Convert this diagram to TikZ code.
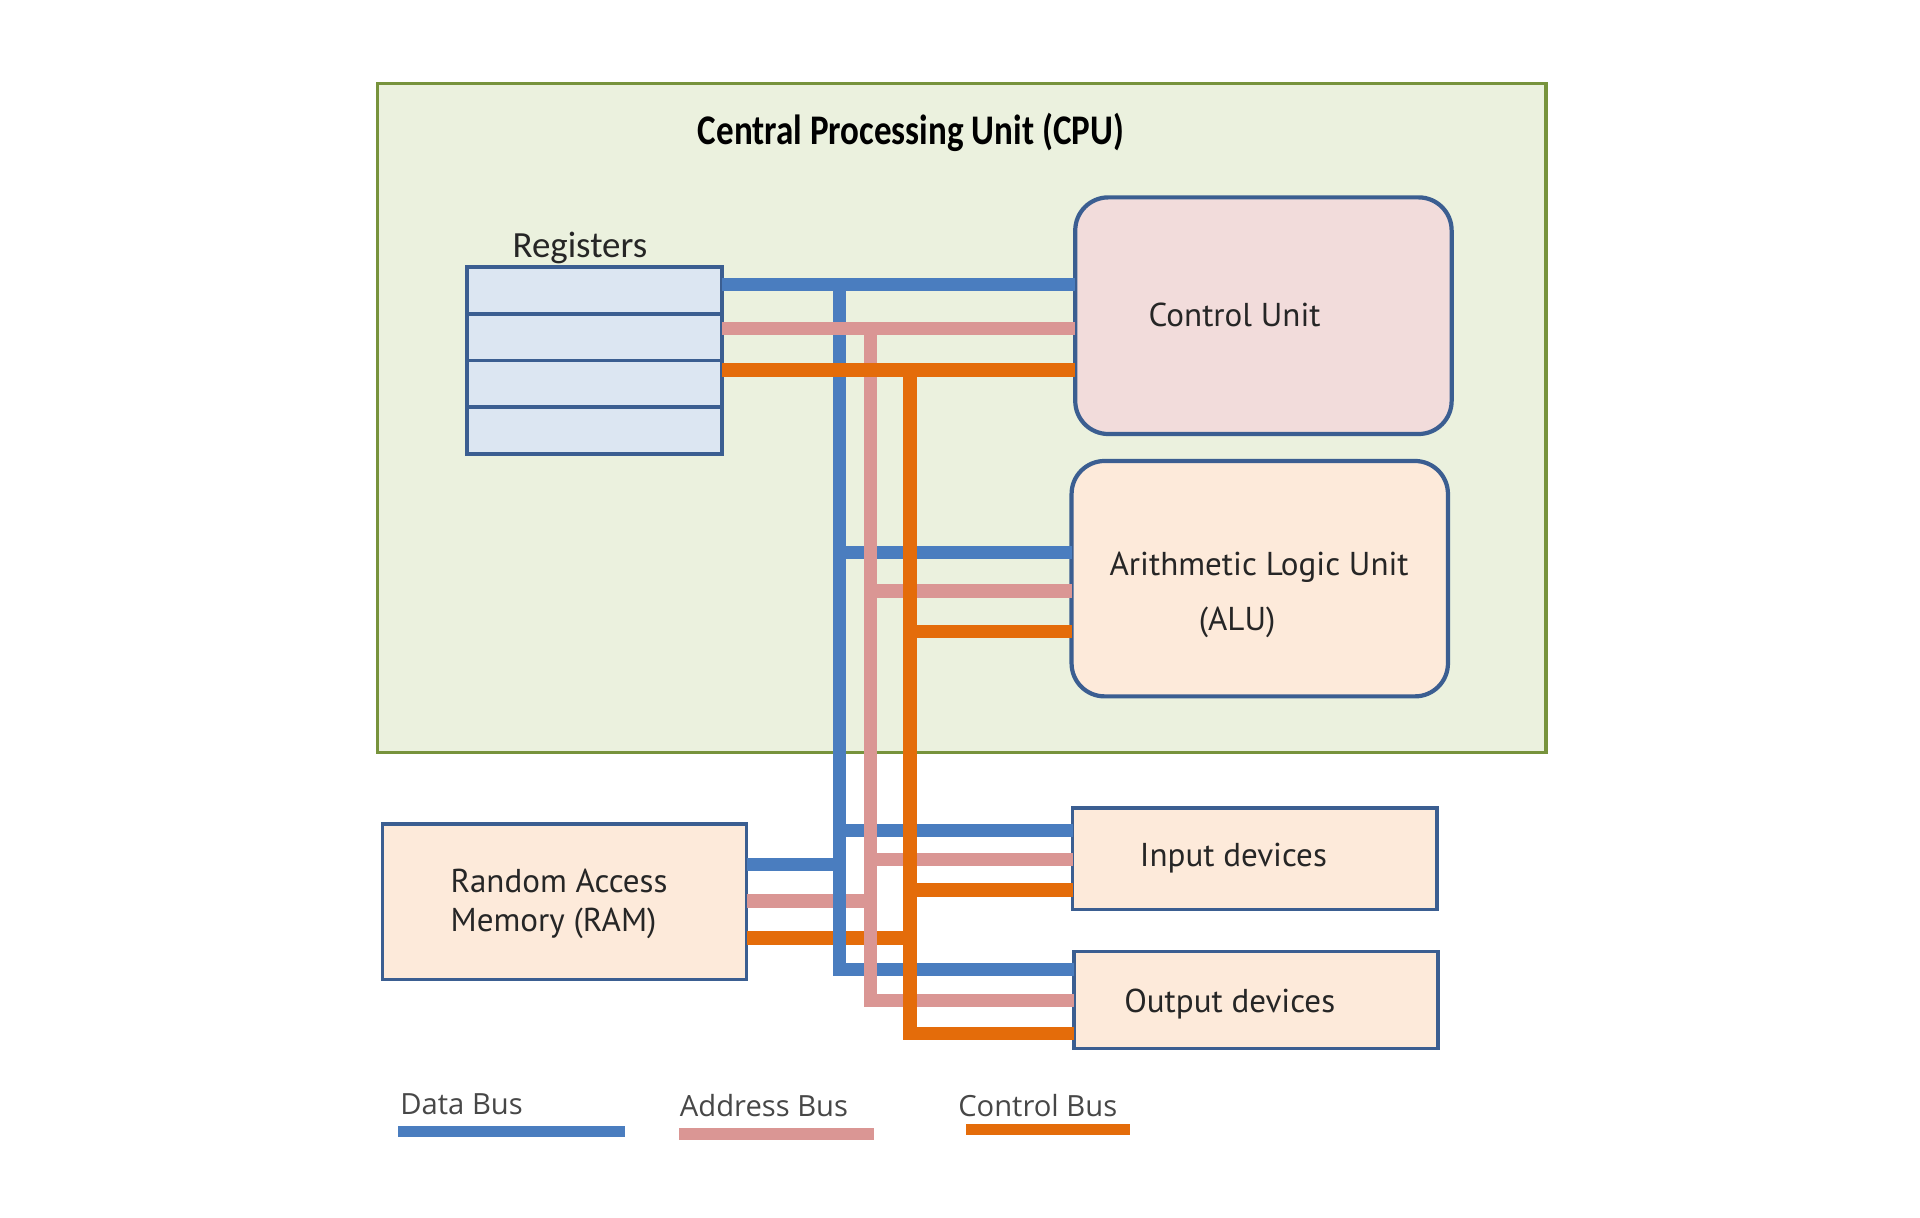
\documentclass[tikz,border=0pt]{standalone}
\usepackage{fontspec}
\setmainfont{PT Sans}
\newfontfamily\titlefont[FakeStretch=0.83]{Carlito}
\newfontfamily\regfont{Carlito}
\newfontfamily\legfont{Open Sans}
\usetikzlibrary{fit}
\definecolor{cpufill}{HTML}{EBF1DE}
\definecolor{cpuline}{HTML}{77933C}
\definecolor{boxline}{HTML}{3B5E91}
\definecolor{regfill}{HTML}{DCE6F2}
\definecolor{cufill}{HTML}{F2DCDB}
\definecolor{peach}{HTML}{FDEADA}
\definecolor{dbusc}{HTML}{4A7DBF}
\definecolor{abusc}{HTML}{DA9694}
\definecolor{cbusc}{HTML}{E46C0A}
\definecolor{txt}{HTML}{262626}
\tikzset{
  cpubox/.style={draw=cpuline, fill=cpufill, line width=0.9pt, inner sep=0pt, outer sep=0pt},
  regbox/.style={draw=boxline, fill=regfill, line width=1.1pt, inner sep=0pt, outer sep=0pt},
  unitbox/.style={draw=boxline, line width=1.2pt, rounded corners=0.33cm, inner sep=0pt, outer sep=0pt},
  devbox/.style={draw=boxline, fill=peach, line width=0.95pt, inner sep=0pt, outer sep=0pt},
  lbl/.style={inner sep=0pt, text=txt, font=\fontsize{9.4}{11}\selectfont, anchor=base},
  dbus/.style={draw=dbusc, line width=3.7pt},
  abus/.style={draw=abusc, line width=3.8pt},
  cbus/.style={draw=cbusc, line width=3.9pt},
  legtxt/.style={inner sep=0pt, text=txt!85, font=\legfont\fontsize{8.3}{10}\selectfont, anchor=base west},
}
\begin{document}
\begin{tikzpicture}[x=0.01226cm, y=-0.01226cm]
\useasboundingbox (0,0) rectangle (1566,993);
\fill[white] (0,0) rectangle (1566,993);

% boxes
\node (cpu) [cpubox, fit={(308,68) (1261,614)}] {};
\node (reg) [regbox, fit={(381,218) (589,370)}] {};
\node (cu)  [unitbox, fill=cufill, fit={(877,161) (1184,354)}] {};
\node (alu) [unitbox, fill=peach, fit={(874,376) (1181,568)}] {};
\node (ram) [devbox, fit={(312,672) (609,799)}] {};
\node (inp) [devbox, fit={(875,659) (1172,742)}] {};
\node (out) [devbox, fit={(876,776) (1173,855)}] {};

% register rows
\coordinate (r1) at (0,256);
\coordinate (r2) at (0,294);
\coordinate (r3) at (0,332);
\draw[boxline, line width=1.1pt] (reg.west |- r1) -- (reg.east |- r1);
\draw[boxline, line width=1.1pt] (reg.west |- r2) -- (reg.east |- r2);
\draw[boxline, line width=1.1pt] (reg.west |- r3) -- (reg.east |- r3);

% labels
\node (title) [inner sep=0pt, anchor=base, text=black, font=\titlefont\bfseries\fontsize{12}{14}\selectfont] at (743,118) {Central Processing Unit (CPU)};
\node (regl) [inner sep=0pt, anchor=base, text=txt, font=\regfont\fontsize{10.5}{12}\selectfont] at (473,210) {Registers};
\node (cul) [lbl] at (1007,266) {Control Unit};
\node (alul1) [lbl] at (1027,469) {Arithmetic Logic Unit};
\node (alul2) [lbl] at (1009,514) {(ALU)};
\node (raml1) [lbl, anchor=base west] at (367,728) {Random Access};
\node (raml2) [lbl, anchor=base west] at (367,760) {Memory (RAM)};
\node (inpl) [lbl] at (1006,707) {Input devices};
\node (outl) [lbl] at (1003,826) {Output devices};

% bus positions
\coordinate (bx) at (685,0);
\coordinate (px) at (710,0);
\coordinate (ox) at (742,0);
\coordinate (dT) at (0,232); \coordinate (pT) at (0,268); \coordinate (oT) at (0,302);
\coordinate (dA) at (0,451); \coordinate (pA) at (0,482); \coordinate (oA) at (0,515);
\coordinate (dI) at (0,677); \coordinate (pI) at (0,701); \coordinate (oI) at (0,726);
\coordinate (dO) at (0,791); \coordinate (pO) at (0,816); \coordinate (oO) at (0,843);
\coordinate (dR) at (0,705); \coordinate (pR) at (0,735); \coordinate (oR) at (0,765);

% branches
\draw[dbus] (bx |- dA) -- (alu.west |- dA);
\draw[abus] (px |- pA) -- (alu.west |- pA);
\draw[cbus] (ox |- oA) -- (alu.west |- oA);
\draw[dbus] (bx |- dI) -- (inp.west |- dI);
\draw[abus] (px |- pI) -- (inp.west |- pI);
\draw[cbus] (ox |- oI) -- (inp.west |- oI);
\draw[dbus] (ram.east |- dR) -- (bx |- dR);
\draw[abus] (ram.east |- pR) -- (px |- pR);
\draw[cbus] (ram.east |- oR) -- (ox |- oR);

% vertical trunks with their ends at the output devices
\draw[dbus] (bx |- dT) -- (bx |- dO) -- (out.west |- dO);
\draw[abus] (px |- pT) -- (px |- pO) -- (out.west |- pO);
\draw[cbus] (ox |- oT) -- (ox |- oO) -- (out.west |- oO);

% top buses between registers and control unit
\draw[dbus] (reg.east |- dT) -- (cu.west |- dT);
\draw[abus] (reg.east |- pT) -- (cu.west |- pT);
\draw[cbus] (reg.east |- oT) -- (cu.west |- oT);

% legend
\node (legd) [legtxt] at (326,909) {Data Bus};
\node (lega) [legtxt] at (554,911) {Address Bus};
\node (legc) [legtxt] at (781,911) {Control Bus};
\coordinate (ld1) at (325,923); \coordinate (ld2) at (510,923);
\coordinate (la1) at (554,925); \coordinate (la2) at (713,925);
\coordinate (lc1) at (788,921); \coordinate (lc2) at (922,921);
\draw[dbusc, line width=3pt] (ld1) -- (ld2);
\draw[abusc, line width=3.2pt] (la1) -- (la2);
\draw[cbusc, line width=3.2pt] (lc1) -- (lc2);
\end{tikzpicture}
\end{document}
